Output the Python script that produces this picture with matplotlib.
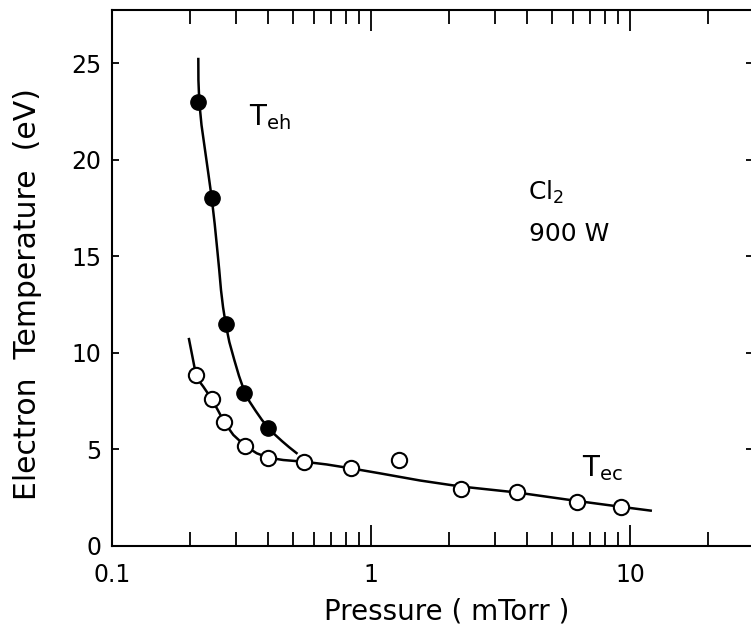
import numpy as np
import matplotlib
matplotlib.use("Agg")
import matplotlib.pyplot as plt
from matplotlib.ticker import LogLocator, NullFormatter, FixedLocator, FixedFormatter

# measured points (pressure in mTorr, temperature in eV)
teh_p = [0.2146, 0.2417, 0.2739, 0.3231, 0.4000]
teh_t = [22.97, 18.03, 11.48, 7.93, 6.12]

tec_p = [0.2102, 0.2417, 0.2705, 0.3251, 0.4000, 0.5512, 0.8348, 1.277, 2.213, 3.648, 6.241, 9.204]
tec_t = [8.85, 7.61, 6.40, 5.19, 4.57, 4.36, 4.02, 4.45, 2.95, 2.78, 2.29, 2.00]

# hand-drawn guide curves
teh_curve_p = [0.2146, 0.2148, 0.2165, 0.2208, 0.2278, 0.2348, 0.2417, 0.2483, 0.2541,
               0.2585, 0.2626, 0.2674, 0.2739, 0.2828, 0.2956, 0.3083, 0.3231, 0.3384,
               0.3576, 0.3783, 0.4000, 0.4246, 0.4518, 0.4809, 0.5142]
teh_curve_t = [25.21, 24.12, 22.97, 21.79, 20.50, 19.25, 18.03, 16.67, 15.32,
               14.29, 13.25, 12.37, 11.48, 10.56, 9.63, 8.80, 8.02, 7.48,
               6.99, 6.52, 6.12, 5.76, 5.43, 5.12, 4.81]

tec_curve_p = [0.1975, 0.2038, 0.2102, 0.2169, 0.2243, 0.2417, 0.2564, 0.2705, 0.2930,
               0.3251, 0.3608, 0.4000, 0.4571, 0.5512, 0.6728, 0.8348, 1.081, 1.543,
               2.213, 3.648, 6.241, 9.204, 12.02]
tec_curve_t = [10.71, 9.78, 8.85, 8.51, 8.25, 7.61, 6.99, 6.40, 5.75,
               5.19, 4.80, 4.57, 4.45, 4.36, 4.22, 4.02, 3.76, 3.39,
               3.08, 2.77, 2.33, 2.03, 1.83]

x_ticks = [0.1, 1, 10]
x_ticklabels = ["0.1", "1", "10"]
y_ticks = [0, 5, 10, 15, 20, 25]

plt.rcParams['font.family'] = ['DejaVu Sans']
plt.rcParams['mathtext.fontset'] = 'dejavusans'

fig = plt.figure(figsize=(7.51, 6.43), dpi=100, facecolor='white')
ax = fig.add_axes([0.1498, 0.1509, 0.8535, 0.8336])

ax.plot(teh_curve_p, teh_curve_t, color='black', lw=1.8, zorder=2)
ax.plot(tec_curve_p, tec_curve_t, color='black', lw=1.8, zorder=2)
ax.plot(teh_p, teh_t, 'o', color='black', ms=11, zorder=3)
ax.plot(tec_p, tec_t, 'o', mfc='white', mec='black', mew=1.5, ms=11, zorder=3)

ax.set_xscale('log')
ax.set_xlim(0.1, 30)
ax.set_ylim(0, 27.75)

ax.xaxis.set_major_locator(FixedLocator(x_ticks))
ax.xaxis.set_major_formatter(FixedFormatter(x_ticklabels))
ax.xaxis.set_minor_locator(LogLocator(base=10, subs=np.arange(2, 10)))
ax.xaxis.set_minor_formatter(NullFormatter())
ax.set_yticks(y_ticks)

for s in ax.spines.values():
    s.set_linewidth(1.5)

ax.tick_params(axis='x', which='major', direction='in', length=15, width=1.3,
               top=True, bottom=True, labelsize=17, pad=12)
ax.tick_params(axis='x', which='minor', direction='in', length=10, width=1.3,
               top=True, bottom=True)
ax.tick_params(axis='y', which='major', direction='in', length=5, width=1.3,
               left=True, right=True, labelsize=17, pad=8)

ax.set_xlabel("Pressure ( mTorr )", fontsize=20)
ax.set_ylabel("Electron  Temperature  (eV)", fontsize=21.5)
ax.xaxis.set_label_coords(0.522, -0.097)
ax.yaxis.set_label_coords(-0.11, 0.47)

ax.text(0.213, 0.785, r"T$_\mathregular{eh}$", transform=ax.transAxes, fontsize=20)
ax.text(0.648, 0.645, r"Cl$_\mathregular{2}$", transform=ax.transAxes, fontsize=18)
ax.text(0.650, 0.569, "900 W", transform=ax.transAxes, fontsize=18)
ax.text(0.733, 0.13, r"T$_\mathregular{ec}$", transform=ax.transAxes, fontsize=20)

fig.savefig("out.png", dpi=100, facecolor='white')
